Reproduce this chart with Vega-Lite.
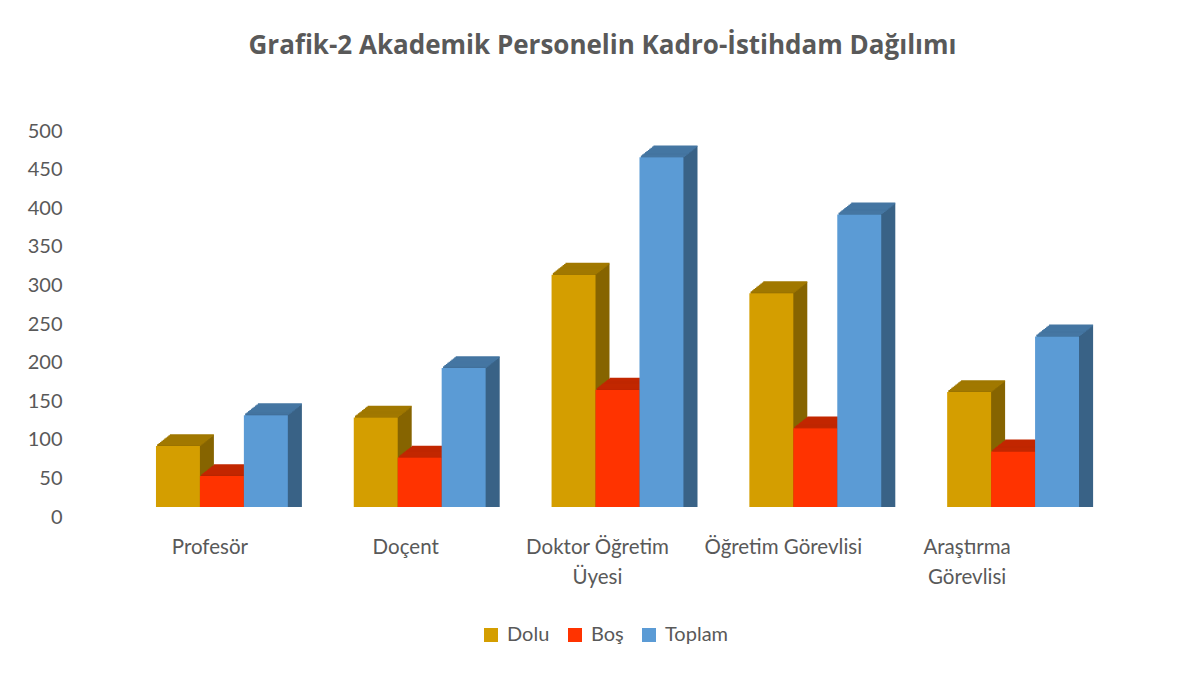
{
"$schema": "https://vega.github.io/schema/vega-lite/v6.json",
"width": 989, "height": 386,
"autosize": {"type": "none"},
"padding": {"left": 123, "top": 121, "right": 88, "bottom": 168},
"background": "white",
"config": {"view": {"stroke": null}, "font": "Lato"},
"title": {"text": "Grafik-2 Akademik Personelin Kadro-İstihdam Dağılımı", "fontSize": 26, "fontWeight": "bold", "color": "#595959", "anchor": "middle", "frame": "group", "dx": -15, "offset": 62, "font": "Open Sans"},
"data": {"values": [
{"kadro": "Profesör", "durum": "Dolu", "sayi": 79},
{"kadro": "Profesör", "durum": "Boş", "sayi": 40},
{"kadro": "Profesör", "durum": "Toplam", "sayi": 119},
{"kadro": "Doçent", "durum": "Dolu", "sayi": 116},
{"kadro": "Doçent", "durum": "Boş", "sayi": 64},
{"kadro": "Doçent", "durum": "Toplam", "sayi": 180},
{"kadro": "Doktor Öğretim Üyesi", "durum": "Dolu", "sayi": 301},
{"kadro": "Doktor Öğretim Üyesi", "durum": "Boş", "sayi": 152},
{"kadro": "Doktor Öğretim Üyesi", "durum": "Toplam", "sayi": 453},
{"kadro": "Öğretim Görevlisi", "durum": "Dolu", "sayi": 277},
{"kadro": "Öğretim Görevlisi", "durum": "Boş", "sayi": 102},
{"kadro": "Öğretim Görevlisi", "durum": "Toplam", "sayi": 379},
{"kadro": "Araştırma Görevlisi", "durum": "Dolu", "sayi": 149},
{"kadro": "Araştırma Görevlisi", "durum": "Boş", "sayi": 72},
{"kadro": "Araştırma Görevlisi", "durum": "Toplam", "sayi": 221}
]},
"encoding": {
 "x": {"field": "kadro", "type": "nominal",
  "scale": {"domain": ["Profesör", "Doçent", "Doktor Öğretim Üyesi", "Öğretim Görevlisi", "Araştırma Görevlisi"], "paddingInner": 0.33333, "paddingOuter": 0.166667},
  "axis": {"title": null, "domain": false, "ticks": false, "grid": false, "labelAngle": 0, "labelFontSize": 20.5, "labelColor": "#595959", "labelPadding": 30, "labelLineHeight": 30, "labelOverlap": false, "labelBound": false,
   "labelExpr": "datum.label == 'Doktor Öğretim Üyesi' ? ['Doktor Öğretim', 'Üyesi'] : datum.label == 'Araştırma Görevlisi' ? ['Araştırma', 'Görevlisi'] : datum.label",
   "labelOffset": {"condition": [
     {"test": "datum.value == 'Profesör'", "value": -12},
     {"test": "datum.value == 'Doçent'", "value": -14},
     {"test": "datum.value == 'Doktor Öğretim Üyesi'", "value": -20},
     {"test": "datum.value == 'Öğretim Görevlisi'", "value": -32}
   ], "value": -46}}},
 "y": {"field": "sayi", "type": "quantitative", "stack": null,
  "scale": {"domain": [0, 500], "nice": false},
  "axis": {"title": null, "domain": false, "ticks": false, "grid": false, "values": [0,50,100,150,200,250,300,350,400,450,500], "labelFontSize": 20, "labelColor": "#595959", "labelPadding": 61, "labelOffset": 10, "labelFlush": false}}
},
"layer": [
{"transform":[{"filter":"datum.durum==='Dolu'"}],"mark":{"type":"bar","width":44,"color":"#866400","xOffset":-42.6,"yOffset":-1.1,"y2Offset":-1.1}},
{"transform":[{"filter":"datum.durum==='Dolu'"}],"mark":{"type":"bar","width":44,"color":"#866400","xOffset":-41.2,"yOffset":-2.2,"y2Offset":-2.2}},
{"transform":[{"filter":"datum.durum==='Dolu'"}],"mark":{"type":"bar","width":44,"color":"#866400","xOffset":-39.8,"yOffset":-3.3,"y2Offset":-3.3}},
{"transform":[{"filter":"datum.durum==='Dolu'"}],"mark":{"type":"bar","width":44,"color":"#866400","xOffset":-38.4,"yOffset":-4.4,"y2Offset":-4.4}},
{"transform":[{"filter":"datum.durum==='Dolu'"}],"mark":{"type":"bar","width":44,"color":"#866400","xOffset":-37,"yOffset":-5.5,"y2Offset":-5.5}},
{"transform":[{"filter":"datum.durum==='Dolu'"}],"mark":{"type":"bar","width":44,"color":"#866400","xOffset":-35.6,"yOffset":-6.6,"y2Offset":-6.6}},
{"transform":[{"filter":"datum.durum==='Dolu'"}],"mark":{"type":"bar","width":44,"color":"#866400","xOffset":-34.2,"yOffset":-7.7,"y2Offset":-7.7}},
{"transform":[{"filter":"datum.durum==='Dolu'"}],"mark":{"type":"bar","width":44,"color":"#866400","xOffset":-32.8,"yOffset":-8.8,"y2Offset":-8.8}},
{"transform":[{"filter":"datum.durum==='Dolu'"}],"mark":{"type":"bar","width":44,"color":"#866400","xOffset":-31.4,"yOffset":-9.9,"y2Offset":-9.9}},
{"transform":[{"filter":"datum.durum==='Dolu'"}],"mark":{"type":"bar","width":44,"color":"#866400","xOffset":-30,"yOffset":-11,"y2Offset":-11}},
{"transform":[{"filter":"datum.durum==='Dolu'"}],"mark":{"type":"tick","size":44,"thickness":1.6,"opacity":1,"color":"#A17800","xOffset":-42.6,"yOffset":-1.1}},
{"transform":[{"filter":"datum.durum==='Dolu'"}],"mark":{"type":"tick","size":44,"thickness":1.6,"opacity":1,"color":"#A17800","xOffset":-41.2,"yOffset":-2.2}},
{"transform":[{"filter":"datum.durum==='Dolu'"}],"mark":{"type":"tick","size":44,"thickness":1.6,"opacity":1,"color":"#A17800","xOffset":-39.8,"yOffset":-3.3}},
{"transform":[{"filter":"datum.durum==='Dolu'"}],"mark":{"type":"tick","size":44,"thickness":1.6,"opacity":1,"color":"#A17800","xOffset":-38.4,"yOffset":-4.4}},
{"transform":[{"filter":"datum.durum==='Dolu'"}],"mark":{"type":"tick","size":44,"thickness":1.6,"opacity":1,"color":"#A17800","xOffset":-37,"yOffset":-5.5}},
{"transform":[{"filter":"datum.durum==='Dolu'"}],"mark":{"type":"tick","size":44,"thickness":1.6,"opacity":1,"color":"#A17800","xOffset":-35.6,"yOffset":-6.6}},
{"transform":[{"filter":"datum.durum==='Dolu'"}],"mark":{"type":"tick","size":44,"thickness":1.6,"opacity":1,"color":"#A17800","xOffset":-34.2,"yOffset":-7.7}},
{"transform":[{"filter":"datum.durum==='Dolu'"}],"mark":{"type":"tick","size":44,"thickness":1.6,"opacity":1,"color":"#A17800","xOffset":-32.8,"yOffset":-8.8}},
{"transform":[{"filter":"datum.durum==='Dolu'"}],"mark":{"type":"tick","size":44,"thickness":1.6,"opacity":1,"color":"#A17800","xOffset":-31.4,"yOffset":-9.9}},
{"transform":[{"filter":"datum.durum==='Dolu'"}],"mark":{"type":"tick","size":44,"thickness":1.6,"opacity":1,"color":"#A17800","xOffset":-30,"yOffset":-11}},
{"transform":[{"filter":"datum.durum==='Boş'"}],"mark":{"type":"bar","width":44,"color":"#A12000","xOffset":1.4,"yOffset":-1.1,"y2Offset":-1.1}},
{"transform":[{"filter":"datum.durum==='Boş'"}],"mark":{"type":"bar","width":44,"color":"#A12000","xOffset":2.8,"yOffset":-2.2,"y2Offset":-2.2}},
{"transform":[{"filter":"datum.durum==='Boş'"}],"mark":{"type":"bar","width":44,"color":"#A12000","xOffset":4.2,"yOffset":-3.3,"y2Offset":-3.3}},
{"transform":[{"filter":"datum.durum==='Boş'"}],"mark":{"type":"bar","width":44,"color":"#A12000","xOffset":5.6,"yOffset":-4.4,"y2Offset":-4.4}},
{"transform":[{"filter":"datum.durum==='Boş'"}],"mark":{"type":"bar","width":44,"color":"#A12000","xOffset":7,"yOffset":-5.5,"y2Offset":-5.5}},
{"transform":[{"filter":"datum.durum==='Boş'"}],"mark":{"type":"bar","width":44,"color":"#A12000","xOffset":8.4,"yOffset":-6.6,"y2Offset":-6.6}},
{"transform":[{"filter":"datum.durum==='Boş'"}],"mark":{"type":"bar","width":44,"color":"#A12000","xOffset":9.8,"yOffset":-7.7,"y2Offset":-7.7}},
{"transform":[{"filter":"datum.durum==='Boş'"}],"mark":{"type":"bar","width":44,"color":"#A12000","xOffset":11.2,"yOffset":-8.8,"y2Offset":-8.8}},
{"transform":[{"filter":"datum.durum==='Boş'"}],"mark":{"type":"bar","width":44,"color":"#A12000","xOffset":12.6,"yOffset":-9.9,"y2Offset":-9.9}},
{"transform":[{"filter":"datum.durum==='Boş'"}],"mark":{"type":"bar","width":44,"color":"#A12000","xOffset":14,"yOffset":-11,"y2Offset":-11}},
{"transform":[{"filter":"datum.durum==='Boş'"}],"mark":{"type":"tick","size":44,"thickness":1.6,"opacity":1,"color":"#C22700","xOffset":1.4,"yOffset":-1.1}},
{"transform":[{"filter":"datum.durum==='Boş'"}],"mark":{"type":"tick","size":44,"thickness":1.6,"opacity":1,"color":"#C22700","xOffset":2.8,"yOffset":-2.2}},
{"transform":[{"filter":"datum.durum==='Boş'"}],"mark":{"type":"tick","size":44,"thickness":1.6,"opacity":1,"color":"#C22700","xOffset":4.2,"yOffset":-3.3}},
{"transform":[{"filter":"datum.durum==='Boş'"}],"mark":{"type":"tick","size":44,"thickness":1.6,"opacity":1,"color":"#C22700","xOffset":5.6,"yOffset":-4.4}},
{"transform":[{"filter":"datum.durum==='Boş'"}],"mark":{"type":"tick","size":44,"thickness":1.6,"opacity":1,"color":"#C22700","xOffset":7,"yOffset":-5.5}},
{"transform":[{"filter":"datum.durum==='Boş'"}],"mark":{"type":"tick","size":44,"thickness":1.6,"opacity":1,"color":"#C22700","xOffset":8.4,"yOffset":-6.6}},
{"transform":[{"filter":"datum.durum==='Boş'"}],"mark":{"type":"tick","size":44,"thickness":1.6,"opacity":1,"color":"#C22700","xOffset":9.8,"yOffset":-7.7}},
{"transform":[{"filter":"datum.durum==='Boş'"}],"mark":{"type":"tick","size":44,"thickness":1.6,"opacity":1,"color":"#C22700","xOffset":11.2,"yOffset":-8.8}},
{"transform":[{"filter":"datum.durum==='Boş'"}],"mark":{"type":"tick","size":44,"thickness":1.6,"opacity":1,"color":"#C22700","xOffset":12.6,"yOffset":-9.9}},
{"transform":[{"filter":"datum.durum==='Boş'"}],"mark":{"type":"tick","size":44,"thickness":1.6,"opacity":1,"color":"#C22700","xOffset":14,"yOffset":-11}},
{"transform":[{"filter":"datum.durum==='Toplam'"}],"mark":{"type":"bar","width":44,"color":"#396286","xOffset":45.4,"yOffset":-1.1,"y2Offset":-1.1}},
{"transform":[{"filter":"datum.durum==='Toplam'"}],"mark":{"type":"bar","width":44,"color":"#396286","xOffset":46.8,"yOffset":-2.2,"y2Offset":-2.2}},
{"transform":[{"filter":"datum.durum==='Toplam'"}],"mark":{"type":"bar","width":44,"color":"#396286","xOffset":48.2,"yOffset":-3.3,"y2Offset":-3.3}},
{"transform":[{"filter":"datum.durum==='Toplam'"}],"mark":{"type":"bar","width":44,"color":"#396286","xOffset":49.6,"yOffset":-4.4,"y2Offset":-4.4}},
{"transform":[{"filter":"datum.durum==='Toplam'"}],"mark":{"type":"bar","width":44,"color":"#396286","xOffset":51,"yOffset":-5.5,"y2Offset":-5.5}},
{"transform":[{"filter":"datum.durum==='Toplam'"}],"mark":{"type":"bar","width":44,"color":"#396286","xOffset":52.4,"yOffset":-6.6,"y2Offset":-6.6}},
{"transform":[{"filter":"datum.durum==='Toplam'"}],"mark":{"type":"bar","width":44,"color":"#396286","xOffset":53.8,"yOffset":-7.7,"y2Offset":-7.7}},
{"transform":[{"filter":"datum.durum==='Toplam'"}],"mark":{"type":"bar","width":44,"color":"#396286","xOffset":55.2,"yOffset":-8.8,"y2Offset":-8.8}},
{"transform":[{"filter":"datum.durum==='Toplam'"}],"mark":{"type":"bar","width":44,"color":"#396286","xOffset":56.6,"yOffset":-9.9,"y2Offset":-9.9}},
{"transform":[{"filter":"datum.durum==='Toplam'"}],"mark":{"type":"bar","width":44,"color":"#396286","xOffset":58,"yOffset":-11,"y2Offset":-11}},
{"transform":[{"filter":"datum.durum==='Toplam'"}],"mark":{"type":"tick","size":44,"thickness":1.6,"opacity":1,"color":"#4576A2","xOffset":45.4,"yOffset":-1.1}},
{"transform":[{"filter":"datum.durum==='Toplam'"}],"mark":{"type":"tick","size":44,"thickness":1.6,"opacity":1,"color":"#4576A2","xOffset":46.8,"yOffset":-2.2}},
{"transform":[{"filter":"datum.durum==='Toplam'"}],"mark":{"type":"tick","size":44,"thickness":1.6,"opacity":1,"color":"#4576A2","xOffset":48.2,"yOffset":-3.3}},
{"transform":[{"filter":"datum.durum==='Toplam'"}],"mark":{"type":"tick","size":44,"thickness":1.6,"opacity":1,"color":"#4576A2","xOffset":49.6,"yOffset":-4.4}},
{"transform":[{"filter":"datum.durum==='Toplam'"}],"mark":{"type":"tick","size":44,"thickness":1.6,"opacity":1,"color":"#4576A2","xOffset":51,"yOffset":-5.5}},
{"transform":[{"filter":"datum.durum==='Toplam'"}],"mark":{"type":"tick","size":44,"thickness":1.6,"opacity":1,"color":"#4576A2","xOffset":52.4,"yOffset":-6.6}},
{"transform":[{"filter":"datum.durum==='Toplam'"}],"mark":{"type":"tick","size":44,"thickness":1.6,"opacity":1,"color":"#4576A2","xOffset":53.8,"yOffset":-7.7}},
{"transform":[{"filter":"datum.durum==='Toplam'"}],"mark":{"type":"tick","size":44,"thickness":1.6,"opacity":1,"color":"#4576A2","xOffset":55.2,"yOffset":-8.8}},
{"transform":[{"filter":"datum.durum==='Toplam'"}],"mark":{"type":"tick","size":44,"thickness":1.6,"opacity":1,"color":"#4576A2","xOffset":56.6,"yOffset":-9.9}},
{"transform":[{"filter":"datum.durum==='Toplam'"}],"mark":{"type":"tick","size":44,"thickness":1.6,"opacity":1,"color":"#4576A2","xOffset":58,"yOffset":-11}},
{"mark": {"type": "bar"},
 "encoding": {
  "xOffset": {"field": "durum", "type": "nominal", "scale": {"domain": ["Dolu", "Boş", "Toplam"], "paddingInner": 0, "paddingOuter": 0}},
  "color": {"field": "durum", "type": "nominal", "scale": {"domain": ["Dolu", "Boş", "Toplam"], "range": ["#D49E00", "#FF3300", "#5B9BD5"]},
   "legend": {"orient": "none", "legendX": 358, "legendY": 504, "direction": "horizontal", "title": null, "symbolType": "square", "symbolSize": 196, "symbolStrokeWidth": 0, "labelFontSize": 20, "labelColor": "#595959", "columnPadding": 15, "labelOffset": 6}}
 }}
]
}
